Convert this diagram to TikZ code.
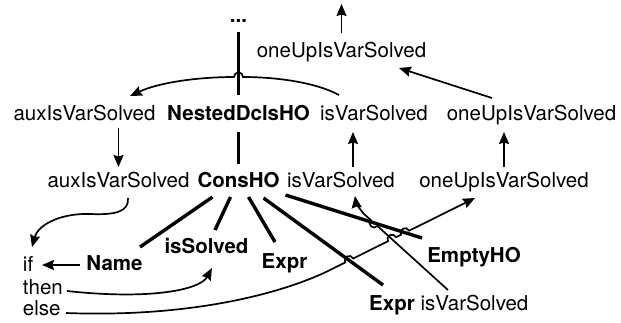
\documentclass[tikz,border=0pt]{standalone}
\usepackage{fontspec}
\setmainfont{TeX Gyre Heros}
\usetikzlibrary{arrows.meta,calc}
\newcommand\hopR{4.5}
\newcommand\hopC{6}
% hop: #1 centre, #2 travel direction, #3 bulge direction (user coordinates, y downwards)
\newcommand\hopat[3]{-- ($(#1)+({#2+180}:\hopR)$) .. controls ($(#1)+({#2+180}:\hopR)+(#3:\hopC)$) and ($(#1)+(#2:\hopR)+(#3:\hopC)$) .. ($(#1)+(#2:\hopR)$)}
\begin{document}
\begin{tikzpicture}[x=1pt,y=-1pt,
  txt/.style={inner sep=0pt,outer sep=0pt,anchor=base,font=\fontsize{20.5}{24}\selectfont},
  bld/.style={txt,font=\fontsize{20.5}{24}\selectfont\bfseries},
  wire/.style={line width=1.7pt},
  arr/.style={wire,-{Stealth[length=12pt,width=10pt,inset=1.5pt]}},
  heavy/.style={line width=3.4pt}]
\useasboundingbox (0,0) rectangle (621,322);

% text nodes
\node[bld] (dots) at (238.5,22) {...};
\node[txt] (ou1) at (341.5,57) {oneUpIsVarSolved};
\node[txt] (aux2) at (84.5,120) {auxIsVarSolved};
\node[bld] (ndh) at (238.5,120) {NestedDclsHO};
\node[txt] (isv2) at (374,120) {isVarSolved};
\node[txt] (ou2) at (531.5,120) {oneUpIsVarSolved};
\node[txt] (aux3) at (118.5,187) {auxIsVarSolved};
\node[bld] (cons) at (238.5,187) {ConsHO};
\node[txt] (isv3) at (341,187) {isVarSolved};
\node[txt] (ou3) at (504,187) {oneUpIsVarSolved};
\node[txt,anchor=base west] (iff) at (23,271) {if};
\node[txt,anchor=base west] (thn) at (23,294) {then};
\node[txt,anchor=base west] (els) at (23,315) {else};
\node[bld] (name) at (114.5,270) {Name};
\node[bld] (iss) at (206.5,253) {isSolved};
\node[bld] (expr1) at (284.5,268) {Expr};
\node[bld] (empty) at (474,262) {EmptyHO};
\node[bld] (expr2) at (392,310) {Expr};
\node[txt] (isv4) at (474.5,310) {isVarSolved};

% heavy tree edges
\draw[heavy] ($(dots.base)+(0,10)$) -- ($(ndh.base)+(0,-25)$);
\draw[heavy] ($(ndh.base)+(0,12)$) -- ($(cons.base)+(0,-23)$);
\draw[heavy] ($(cons.base)+(-26,10)$) -- ($(name.base)+(25.5,-23)$);
\draw[heavy] ($(cons.base)+(-8,10)$) -- ($(iss.base)+(8.5,-23)$);
\draw[heavy] ($(cons.base)+(10,10)$) -- ($(expr1.base)+(-9.5,-26)$);
\draw[heavy] ($(cons.base)+(25,11)$) -- ($(expr2.base)+(-9,-25)$);
\draw[heavy] ($(cons.base)+(47,8)$) -- ($(empty.base)+(-52,-24)$);

% thin arrows
\coordinate (top) at (341.5,4);
\draw[arr] ($(ou1.base)+(0,-24)$) -- (top);
\draw[arr] ($(isv2.base)+(-35,-25)$) .. controls (315,82) and (275,77) .. (243,77)
  \hopat{238.5,77}{180}{270}
  .. controls (200,77) and (160,82) .. ($(aux2.base)+(45.5,-24)$);
\draw[arr] ($(ou2.base)+(-39.5,-22)$) -- ($(ou1.base)+(57.5,11)$);
\draw[arr] ($(aux2.base -| aux3.base)+(0,8)$) -- ($(aux3.base)+(0,-20)$);
\draw[arr] ($(isv3.base)+(12,-20)$) -- ($(isv2.base)+(-21,12)$);
\draw[arr] ($(ou3.base)+(0,-20)$) -- ($(ou2.base -| ou3.base)+(0,12)$);
\draw[arr] ($(aux3.base)+(9.5,11)$) .. controls (129,212) and (115,215) .. (90,214)
  .. controls (60,213) and (38,225) .. ($(iff.base west)+(9,-24)$);
\draw[arr] ($(name.base)+(-34.5,-5)$) -- ($(iff.base west)+(19,-6)$);
\draw[arr] ($(thn.base west)+(44,-3)$) .. controls (150,300) and (200,290) .. ($(iss.base)+(5.5,15)$);
\draw[arr] ($(isv4.base)+(-26.5,-20)$)
  \hopat{374.1,223.0}{-137.8}{132.2}
  -- (364,214) .. controls (359,208) and (356,203) .. ($(isv3.base)+(14,9)$);
\draw[arr] ($(els.base west)+(43,-2)$) .. controls (200,318) and (290,290) .. (330,270)
  \hopat{349.2,260.5}{-26.4}{-116.4}
  \hopat{392.0,239.2}{-26.4}{-116.4}
  \hopat{405.1,232.7}{-26.4}{-116.4}
  -- ($(ou3.base)+(-29,11)$);
\end{tikzpicture}
\end{document}
